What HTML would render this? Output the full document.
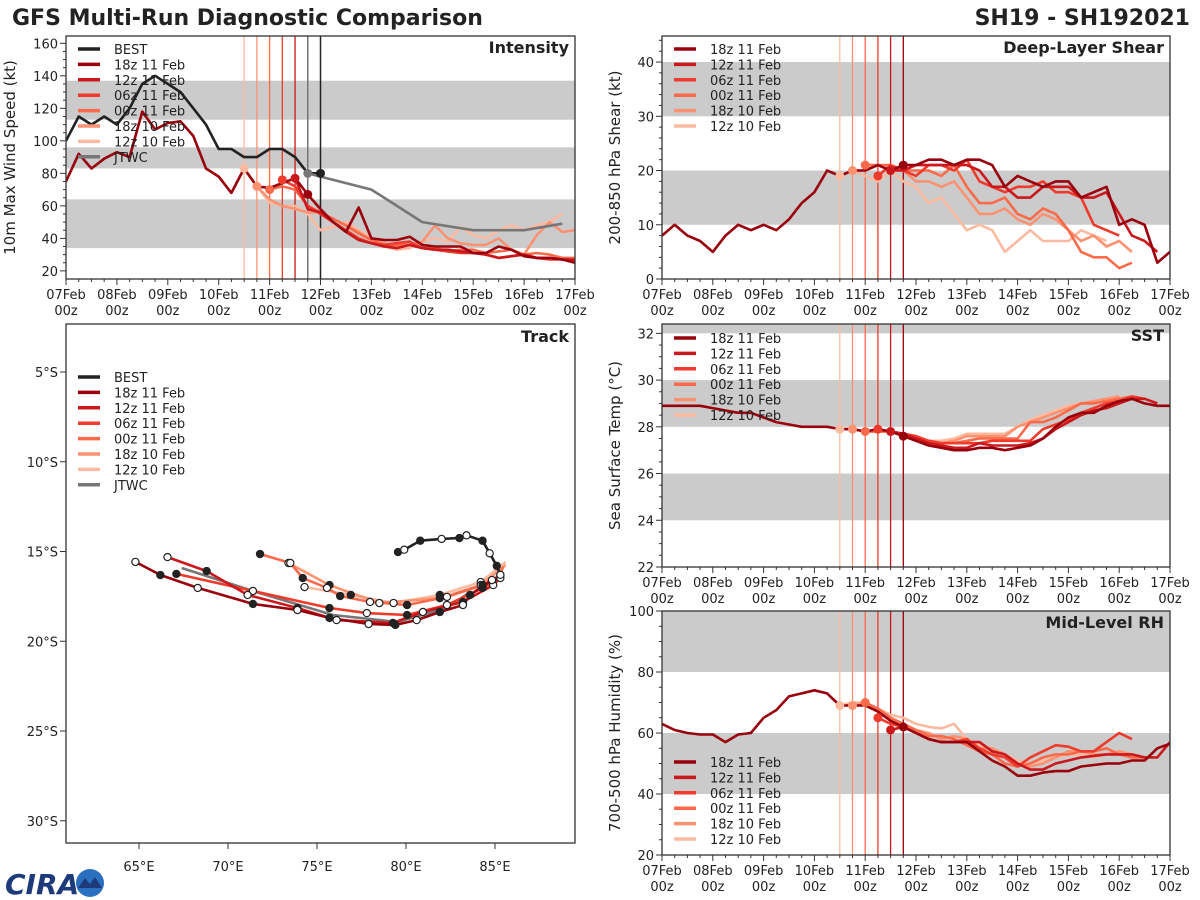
<!DOCTYPE html>
<html><head><meta charset="utf-8">
<style>
html,body{margin:0;padding:0;background:#fff;width:1200px;height:900px;overflow:hidden}
svg{display:block;font-family:"DejaVu Sans","Liberation Sans",sans-serif}
</style></head>
<body>
<svg id="fig" width="1200" height="900" viewBox="0 0 1200 900">
<text x="12" y="25" font-size="22" font-weight="bold" fill="#222">GFS Multi-Run Diagnostic Comparison</text>
<text x="1190" y="25" font-size="22" font-weight="bold" fill="#222" text-anchor="end">SH19 - SH192021</text>
<g>
<text x="5" y="894" font-size="28" font-weight="bold" fill="#1d3a7a" font-style="italic">CIRA</text>
<circle cx="90" cy="883" r="14" fill="#2a6fc0"/>
<path d="M78 888 L85 878 L90 884 L95 877 L102 888 Z" fill="#1d3a7a"/>
</g>
</svg>
<script>
// ---------- data ----------
const runNames = ["18z 11 Feb","12z 11 Feb","06z 11 Feb","00z 11 Feb","18z 10 Feb","12z 10 Feb"];
const runColors = ["#99000d","#cb181d","#ef3b2c","#fb6a4a","#fc9272","#fcbba1"];
const runStart = [0,18,17,16,15,14];
const runInit = [19,18,17,16,15,14];
const xTickLabels = ["07Feb","08Feb","09Feb","10Feb","11Feb","12Feb","13Feb","14Feb","15Feb","16Feb","17Feb"];

const intBest = [100,115,110,115,110,120,135,140,135,130,120,110,95,95,90,90,95,95,90,80,80];
const intJtwcT = [19,20,22,24,28,32,36,39];
const intJtwcV = [80,78,74,70,50,45,45,49];
const int18z11 = [75,92,83,89,93,90,118,107,111,112,103,83,78,68,83,72,71,74,77,67,58,50,44,59,40,39,39,41,36,35,35,35,31,31,35,33,29,28,28,27,25];
const int12z11 = [77,58,56,50,44,39,37,35,34,36,34,33,33,32,31,30,28,29,30,28,28,27,27];
const int06z11 = [76,72,60,55,50,45,40,37,36,37,38,34,33,32,31,31,30,28,29,30,28,27,27,26,27];
const int00z11 = [70,72,70,60,56,52,48,43,39,36,36,36,34,34,32,33,33,31,32,33,30,31,30,28,28,26,27];
const int18z10 = [72,64,60,58,56,56,52,48,44,39,37,35,36,38,48,40,37,36,36,40,33,30,42,50,44,45];
const int12z10 = [83,72,62,60,60,55,45,47,50,45,40,35,33,34,38,40,38,47,42,40,45,48,45,48,50,55];

const shr18z11 = [8,10,8,7,5,8,10,9,10,9,11,14,16,20,19,20,20,21,20,21,21,22,22,21,22,22,21,17,19,18,17,18,18,15,16,17,10,11,10,3,5];
const shr12z11 = [20,20,21,21,21,21,21,20,17,17,15,15,17,17,17,15,15,16,12,8,7,5];
const shr06z11 = [19,21,20,19,21,21,20,22,18,17,16,17,17,18,16,16,15,10,9,8];
const shr00z11 = [21,21,21,20,20,20,19,21,17,14,14,15,12,11,13,12,9,5,4,4,2,3];
const shr18z10 = [20,20,21,20,20,18,18,17,18,15,12,12,13,11,10,12,11,9,7,8,6,7,5];
const shr12z10 = [19,20,19,18,20,18,17,14,15,12,9,10,9,5,7,9,7,7,7,9,8,7];

const sst18z11 = [28.9,28.9,28.9,28.9,28.8,28.7,28.6,28.6,28.4,28.2,28.1,28.0,28.0,28.0,27.9,27.9,27.8,27.9,27.8,27.6,27.4,27.2,27.1,27.0,27.0,27.1,27.1,27.0,27.1,27.2,27.5,28.0,28.4,28.6,28.6,28.9,29.1,29.2,29.0,28.9,28.9];
const sst12z11 = [27.8,27.7,27.5,27.3,27.2,27.1,27.1,27.3,27.2,27.2,27.2,27.3,27.5,27.9,28.2,28.5,28.7,28.8,29.0,29.2,29.2,29.0];
const sst06z11 = [27.9,27.8,27.7,27.6,27.4,27.3,27.3,27.3,27.3,27.4,27.4,27.4,27.4,27.9,28.1,28.3,28.6,28.8,29.0,29.1,29.3,29.2];
const sst00z11 = [27.8,27.8,27.8,27.7,27.6,27.4,27.3,27.3,27.4,27.5,27.5,27.5,27.5,28.2,28.2,28.4,28.7,29.0,29.0,29.1,29.2,29.3];
const sst18z10 = [27.9,27.8,27.8,27.8,27.7,27.5,27.4,27.3,27.4,27.6,27.6,27.6,27.6,28.0,28.2,28.4,28.6,28.8,29.0,29.1,29.2,29.3];
const sst12z10 = [27.9,27.9,27.8,27.8,27.8,27.7,27.5,27.4,27.4,27.5,27.7,27.7,27.7,27.7,28.0,28.3,28.5,28.7,28.9,29.0,29.1,29.2,29.3];

const rh18z11 = [63,61,60,59.5,59.5,57,59.5,60,65,67.5,72,73,74,73,69,69,69,67,64,62,60,58,57,57,57,54,51,49,46,46,47,47.5,47.5,49,49.5,50,50,51,51,55,56.5];
const rh12z11 = [61,62,60,58,57,57,57,57,54,53,50,48,48,50,51,52,52.5,53,53,53,52,52,57];
const rh06z11 = [65,63,62,60,58,57,57,58,55,53,52,49,52,54,56,55.5,54,54,57,60,58];
const rh00z11 = [70,68,65,63,61,59,59,58,56,54,53,50,49,50,52,53,53,54,54,55,53,52,52];
const rh18z10 = [69,70,67,65,63,61,60,58,59,58,55,55,53,50,49,50,52,54,54,53,53,54,53];
const rh12z10 = [69,70,70,68,66,65,63,62,61.5,63,58,56,55,53,51,50,51,52,53,53,52,53,54,53];

const trkBestLon = [79.55,79.9,80.8,82.0,83.0,83.4,84.3,84.7,85.1,85.3];
const trkBestLat = [-15.03,-14.9,-14.4,-14.3,-14.25,-14.1,-14.4,-15.1,-15.8,-16.3];
const trk18z11Lon = [85.28,84.83,83.6,83.2,81.9,80.6,79.4,77.9,75.7,73.9,71.4,68.3,66.2,64.8];
const trk18z11Lat = [-16.42,-16.59,-17.42,-17.98,-18.37,-18.82,-19.09,-19.04,-18.7,-18.26,-17.92,-17.03,-16.31,-15.58];
const trk12z11Lon = [85.45,84.9,83.2,80.95,79.27,76.1,73.9,71.1,68.8,66.6];
const trk12z11Lat = [-16.31,-16.87,-17.81,-18.37,-18.98,-18.82,-18.15,-17.42,-16.09,-15.31];
const trk06z11Lon = [85.4,85.3,84.3,82.3,80.06,77.8,75.7,71.4,67.1];
const trk06z11Lat = [-16.14,-16.48,-17.03,-17.98,-18.54,-18.43,-18.15,-17.2,-16.25];
const trk00z11Lon = [85.45,85.3,84.3,82.3,80.06,77.98,76.3,75.56,74.2,73.5,71.8];
const trk00z11Lat = [-15.86,-16.31,-16.87,-17.53,-17.98,-17.81,-17.48,-17.03,-16.48,-15.64,-15.14];
const trk18z10Lon = [85.6,84.2,81.9,78.5,75.7,73.4];
const trk18z10Lat = [-15.75,-16.87,-17.6,-17.87,-16.87,-15.64];
const trk12z10Lon = [85.6,84.2,81.9,79.3,76.9,74.3];
const trk12z10Lat = [-15.58,-16.7,-17.42,-17.87,-17.42,-16.98];
const trkJtwcLon = [83.6,82.3,79.5,75.9,71.6,67.4];
const trkJtwcLat = [-17.26,-18.15,-18.93,-18.54,-17.26,-15.92];

// ---------- drawing ----------
const svg = document.getElementById('fig');
const NS = 'http://www.w3.org/2000/svg';
function mk(tag, attrs, parent){
  const e = document.createElementNS(NS, tag);
  for (const k in attrs) e.setAttribute(k, attrs[k]);
  (parent||svg).appendChild(e);
  return e;
}

function tsPanel(p){
  const g = mk('g', {});
  
  
  const X = t => p.x0 + (t/40)*(p.x1-p.x0);
  const Y = v => p.y1 - (v-p.ymin)/(p.ymax-p.ymin)*(p.y1-p.y0);
  const clip = 'clip-'+p.name;
  const cp = mk('clipPath', {id: clip}, g);
  mk('rect', {x:p.x0, y:p.y0, width:p.x1-p.x0, height:p.y1-p.y0}, cp);
  const inner = mk('g', {'clip-path':'url(#'+clip+')'}, g);
  p.bands.forEach(b => {
    const r = mk('rect', {x:p.x0, y:Y(b[1]), width:p.x1-p.x0, height:Y(b[0])-Y(b[1]), fill:'#cbcbcb'}, inner);
    
    
  });
  runInit.forEach((t,i) => {
    const l = mk('line', {x1:X(t), x2:X(t), y1:p.y0, y2:p.y1, stroke:runColors[i], 'stroke-width':1.3}, inner);
    
    
  });
  (p.extraV||[]).forEach(v => {
    const l = mk('line', {x1:X(v.t), x2:X(v.t), y1:p.y0, y2:p.y1, stroke:v.c, 'stroke-width':1.5}, inner);
    
    
  });
  const line = (ts, vs, color, nm) => {
    const d = ts.map((t,k) => (k?'L':'M') + X(t).toFixed(1) + ' ' + Y(vs[k]).toFixed(1)).join(' ');
    const pth = mk('path', {d, fill:'none', stroke:color, 'stroke-width':2.6, 'stroke-linejoin':'round'}, inner);
    
    
  };
  const dot = (t, v, color) => {
    const c = mk('circle', {cx:X(t), cy:Y(v), r:4.5, fill:color}, inner);
    
    
  };
  (p.pre||[]).forEach(s => line(s.t, s.v, s.c, s.n));
  for (let i = p.series.length-1; i >= 0; i--) {
    const vs = p.series[i];
    const ts = vs.map((_,k) => runStart[i]+k);
    line(ts, vs, runColors[i], 'series-'+runNames[i].replace(/ /g,'-').toLowerCase());
  }
  (p.post||[]).forEach(s => line(s.t, s.v, s.c, s.n));
  for (let i = p.series.length-1; i >= 0; i--) {
    const t = runInit[i];
    dot(t, p.series[i][t-runStart[i]], runColors[i]);
  }
  (p.postDots||[]).forEach(d => dot(d.t, d.v, d.c));
  const fr = mk('rect', {x:p.x0, y:p.y0, width:p.x1-p.x0, height:p.y1-p.y0, fill:'none', stroke:'#333', 'stroke-width':1.3}, g);
  
  
  for (let t = 0; t <= 40; t++) {
    const maj = t%4===0;
    mk('line', {x1:X(t), x2:X(t), y1:p.y1, y2:p.y1+(maj?6:3), stroke:'#333', 'stroke-width':1}, g);
  }
  xTickLabels.forEach((lab,k) => {
    const tx = mk('text', {x:X(k*4), y:p.y1+20, 'font-size':13, fill:'#222', 'text-anchor':'middle'}, g);
    tx.textContent = lab;
    
    
    const tz = mk('text', {x:X(k*4), y:p.y1+36, 'font-size':13, fill:'#222', 'text-anchor':'middle'}, g);
    tz.textContent = '00z';
    
    
  });
  for (let v = p.ymin0; v <= p.ymax; v += p.minor) {
    const maj = Math.abs(((v - p.ymin0) / p.major) - Math.round((v - p.ymin0)/p.major)) < 1e-6;
    if (Y(v) < p.y0-0.5 || Y(v) > p.y1+0.5) continue;
    mk('line', {x1:p.x0-(maj?6:3), x2:p.x0, y1:Y(v), y2:Y(v), stroke:'#333', 'stroke-width':1}, g);
    if (maj) {
      const tx = mk('text', {x:p.x0-8, y:Y(v)+5, 'font-size':13, fill:'#222', 'text-anchor':'end'}, g);
      tx.textContent = Math.round(v);
      
      
    }
  }
  const yl = mk('text', {x:0, y:0, 'font-size':15, fill:'#222', 'text-anchor':'middle', transform:'translate('+p.ylx+','+((p.y0+p.y1)/2)+') rotate(-90)'}, g);
  yl.textContent = p.ylabel;
  
  
  const tt = mk('text', {x:p.x1-6, y:p.y0+17, 'font-size':16, 'font-weight':'bold', fill:'#222', 'text-anchor':'end'}, g);
  tt.textContent = p.title;
  
  
  legend(g, p.x0+12, p.legY, p.legend);
}

function legend(g, x, y, entries){
  entries.forEach((e,k) => {
    const yy = y + k*15.4;
    const l = mk('line', {x1:x, x2:x+22, y1:yy, y2:yy, stroke:e.c, 'stroke-width':3.5}, g);
    
    
    const t = mk('text', {x:x+36, y:yy+5, 'font-size':13, fill:'#222'}, g);
    t.textContent = e.n;
    
    
  });
}
const runLegend = runNames.map((n,i) => ({n, c:runColors[i]}));

tsPanel({name:'intensity-panel', x0:66, x1:575, y0:36, y1:279, ymin:15, ymax:164.5, ymin0:20, major:20, minor:5,
  bands:[[34,64],[83,96],[113,137]], ylabel:'10m Max Wind Speed (kt)', ylx:15, title:'Intensity', legY:49,
  legend:[{n:'BEST',c:'#222'}].concat(runLegend,[{n:'JTWC',c:'#777'}]),
  extraV:[{t:19,c:'#777'},{t:20,c:'#222'}],
  pre:[{t:intBest.map((_,k)=>k), v:intBest, c:'#222', n:'best-intensity-line'}],
  series:[int18z11,int12z11,int06z11,int00z11,int18z10,int12z10],
  post:[{t:intJtwcT, v:intJtwcV, c:'#777', n:'jtwc-intensity-line'}],
  postDots:[{t:20,v:80,c:'#222'},{t:19,v:80,c:'#777'}]});

tsPanel({name:'shear-panel', x0:662, x1:1170, y0:36, y1:279, ymin:0, ymax:44.8, ymin0:0, major:10, minor:2,
  bands:[[10,20],[30,40]], ylabel:'200-850 hPa Shear (kt)', ylx:620, title:'Deep-Layer Shear', legY:49,
  legend:runLegend, series:[shr18z11,shr12z11,shr06z11,shr00z11,shr18z10,shr12z10]});

tsPanel({name:'sst-panel', x0:662, x1:1170, y0:324, y1:567, ymin:22, ymax:32.4, ymin0:22, major:2, minor:0.5,
  bands:[[24,26],[28,30],[32,33]], ylabel:'Sea Surface Temp (°C)', ylx:620, title:'SST', legY:338,
  legend:runLegend, series:[sst18z11,sst12z11,sst06z11,sst00z11,sst18z10,sst12z10]});

tsPanel({name:'rh-panel', x0:662, x1:1170, y0:611, y1:855, ymin:20, ymax:100, ymin0:20, major:20, minor:5,
  bands:[[40,60],[80,100]], ylabel:'700-500 hPa Humidity (%)', ylx:620, title:'Mid-Level RH', legY:762,
  legend:runLegend, series:[rh18z11,rh12z11,rh06z11,rh00z11,rh18z10,rh12z10]});

// ---------- track panel ----------
(function(){
  const x0=66,x1=575,y0=324,y1=843;
  const X = lon => 139 + (lon-65)*17.8;
  const Y = lat => 372 + (-lat-5)*17.95;
  const g = mk('g', {});
  
  
  const tracks = [
    {lon:trkJtwcLon, lat:trkJtwcLat, c:'#777', n:'jtwc-track'},
    {lon:trk12z10Lon, lat:trk12z10Lat, c:runColors[5], n:'track-12z-10-feb'},
    {lon:trk18z10Lon, lat:trk18z10Lat, c:runColors[4], n:'track-18z-10-feb'},
    {lon:trk00z11Lon, lat:trk00z11Lat, c:runColors[3], n:'track-00z-11-feb'},
    {lon:trk06z11Lon, lat:trk06z11Lat, c:runColors[2], n:'track-06z-11-feb'},
    {lon:trk12z11Lon, lat:trk12z11Lat, c:runColors[1], n:'track-12z-11-feb'},
    {lon:trk18z11Lon, lat:trk18z11Lat, c:runColors[0], n:'track-18z-11-feb'},
    {lon:trkBestLon, lat:trkBestLat, c:'#222', n:'best-track'}
  ];
  tracks.forEach(tr => {
    const d = tr.lon.map((l,k)=>(k?'L':'M')+X(l).toFixed(1)+' '+Y(tr.lat[k]).toFixed(1)).join(' ');
    const p = mk('path', {d, fill:'none', stroke:tr.c, 'stroke-width':2.6, 'stroke-linejoin':'round'}, g);
    
    
  });
  tracks.slice(1).forEach(tr => {
    tr.lon.forEach((l,k) => {
      if (k===0 && tr.n!=='best-track') return;
      const c = mk('circle', {cx:X(l), cy:Y(tr.lat[k]), r:3.6, fill:(k%2?'#fff':'#222'), stroke:'#222', 'stroke-width':1.2}, g);
      
      
    });
  });
  const fr = mk('rect', {x:x0, y:y0, width:x1-x0, height:y1-y0, fill:'none', stroke:'#333', 'stroke-width':1.3}, g);
  
  
  [65,70,75,80,85].forEach(lon => {
    mk('line', {x1:X(lon), x2:X(lon), y1:y1, y2:y1+6, stroke:'#333'}, g);
    const t = mk('text', {x:X(lon), y:y1+28, 'font-size':13, fill:'#222', 'text-anchor':'middle'}, g);
    t.textContent = lon+'°E';
    
    
  });
  [5,10,15,20,25,30].forEach(lat => {
    mk('line', {x1:x0-6, x2:x0, y1:Y(-lat), y2:Y(-lat), stroke:'#333'}, g);
    const t = mk('text', {x:x0-8, y:Y(-lat)+5, 'font-size':13, fill:'#222', 'text-anchor':'end'}, g);
    t.textContent = lat+'°S';
    
    
  });
  const tt = mk('text', {x:x1-6, y:y0+18, 'font-size':16, 'font-weight':'bold', fill:'#222', 'text-anchor':'end'}, g);
  tt.textContent = 'Track';
  
  
  legend(g, 78, 377, [{n:'BEST',c:'#222'}].concat(runLegend,[{n:'JTWC',c:'#777'}]));
})();
</script>
</body></html>
